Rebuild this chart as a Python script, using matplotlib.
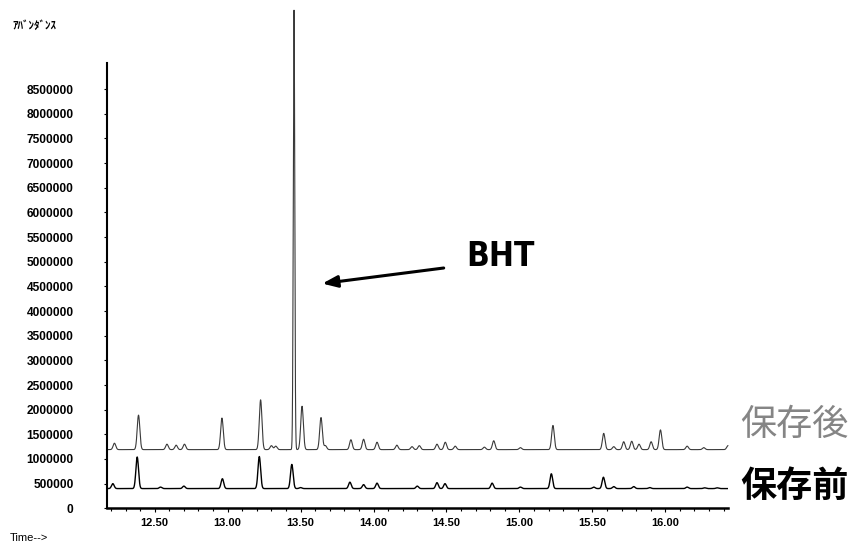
import numpy as np
import matplotlib
matplotlib.use('Agg')
import matplotlib.pyplot as plt
from matplotlib.ticker import MultipleLocator

plt.rcParams['font.family'] = ['Liberation Sans', 'Noto Sans CJK JP', 'DejaVu Sans']

# 保存前 : baseline and peak list (retention time [min], apex abundance)
before_base = 400000
before_rt = [12.213, 12.38, 12.54, 12.70, 12.964, 13.217, 13.44, 13.50, 13.838,
             13.932, 14.024, 14.30, 14.435, 14.49, 14.813, 15.007, 15.219, 15.51,
             15.576, 15.647, 15.784, 15.894, 16.15, 16.27, 16.356]
before_ht = [500000, 1040000, 430000, 450000, 600000, 1050000, 890000, 420000, 530000,
             480000, 510000, 450000, 520000, 500000, 510000, 430000, 700000, 430000,
             630000, 440000, 440000, 420000, 430000, 415000, 415000]

# 保存後 : baseline and peak list (BHT at 13.455)
after_base = 1190000
after_rt = [12.224, 12.389, 12.584, 12.647, 12.704, 12.961, 13.226, 13.30, 13.33,
            13.455, 13.51, 13.64, 13.67, 13.845, 13.932, 14.024, 14.16, 14.264,
            14.314, 14.435, 14.492, 14.56, 14.76, 14.824, 15.007, 15.23, 15.578,
            15.647, 15.715, 15.77, 15.82, 15.903, 15.967, 16.15, 16.264, 16.43]
after_ht = [1320000, 1890000, 1300000, 1280000, 1300000, 1830000, 2200000, 1270000, 1260000,
            10100000, 2070000, 1840000, 1270000, 1390000, 1400000, 1340000, 1280000, 1250000,
            1270000, 1300000, 1340000, 1260000, 1240000, 1370000, 1230000, 1680000, 1520000,
            1250000, 1350000, 1360000, 1300000, 1350000, 1590000, 1260000, 1230000, 1270000]

y_ticks = list(range(0, 9000000, 500000))
x_ticks = [12.5, 13.0, 13.5, 14.0, 14.5, 15.0, 15.5, 16.0]

t = np.arange(12.173, 16.43, 0.001)


def trace(base, rts, hts):
    # 各ピークをガウス形で重ね合わせる
    y = np.full_like(t, float(base))
    for rt, h in zip(rts, hts):
        s = 0.005 if h > 5e6 else 0.009
        y += (h - base) * np.exp(-0.5 * ((t - rt) / s) ** 2)
    return y


fig = plt.figure(figsize=(8.49, 5.49), dpi=100)
ax = fig.add_axes([107 / 849, 40.7 / 549, 621 / 849, 445.3 / 549])

ax.plot(t, trace(before_base, before_rt, before_ht), color='black', lw=1.0)
ax.plot(t, trace(after_base, after_rt, after_ht), color='#3a3a3a', lw=0.8, clip_on=False)

ax.set_xlim(12.173, 16.43)
ax.set_ylim(0, 9030000)
ax.set_yticks(y_ticks)
ax.set_yticklabels([str(v) for v in y_ticks])
ax.set_xticks(x_ticks)
ax.set_xticklabels(['%.2f' % v for v in x_ticks])
ax.xaxis.set_minor_locator(MultipleLocator(0.1))

for s in ['top', 'right']:
    ax.spines[s].set_visible(False)
ax.spines['left'].set_linewidth(1.5)
ax.spines['bottom'].set_linewidth(1.8)
ax.tick_params(axis='y', length=2, width=0.8, pad=22, labelsize=8.6)
ax.tick_params(axis='x', which='major', length=3, width=0.8, pad=4, labelsize=8)
ax.tick_params(axis='x', which='minor', length=2, width=0.8)
for lb in ax.get_xticklabels() + ax.get_yticklabels():
    lb.set_fontweight('bold')

# BHT の矢印
ax.annotate('', xy=(13.63, 4550000), xytext=(14.5, 4880000),
            arrowprops=dict(arrowstyle='-|>,head_length=0.9,head_width=0.35',
                            color='black', lw=2.2))
fig.text(466 / 849, 1 - 257 / 549, 'BHT', fontsize=24, va='center', ha='left',
         family='DejaVu Sans', fontweight='bold', fontstretch='condensed')

fig.text(740 / 849, 1 - 425 / 549, '保存後', fontsize=26, color='#858585',
         va='center', ha='left', family=['Noto Sans CJK JP', 'DejaVu Sans'])
fig.text(740 / 849, 1 - 486 / 549, '保存前', fontsize=26, color='black', fontweight='bold',
         va='center', ha='left', family=['Noto Sans CJK JP', 'DejaVu Sans'])

fig.text(12 / 849, 1 - 25 / 549, 'ｱﾊﾞﾝﾀﾞﾝｽ', fontsize=8, fontweight='bold',
         va='center', ha='left', family=['Noto Sans CJK JP', 'DejaVu Sans'])
fig.text(10 / 849, 1 - 538 / 549, 'Time-->', fontsize=8,
         va='center', ha='left')

fig.savefig('out.png', dpi=100)
